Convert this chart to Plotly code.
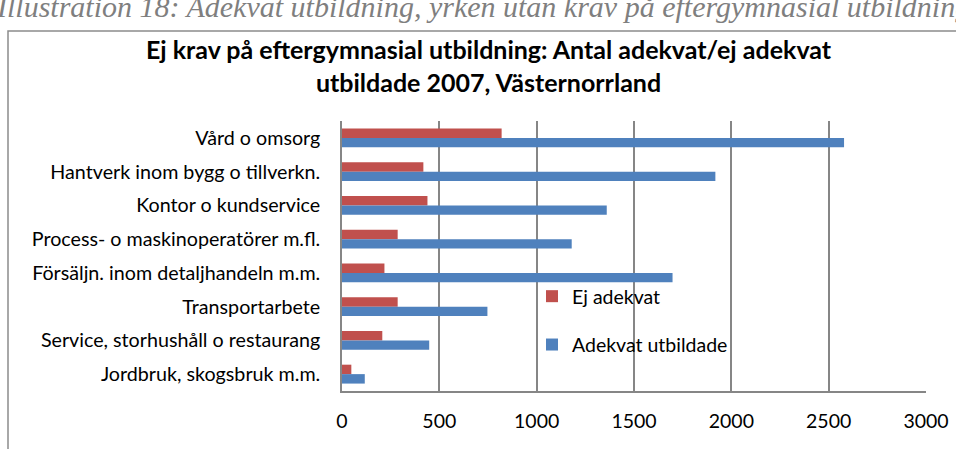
import plotly.graph_objects as go

categories = [
    "Vård o omsorg",
    "Hantverk inom bygg o tillverkn.",
    "Kontor o kundservice",
    "Process- o maskinoperatörer m.fl.",
    "Försäljn. inom detaljhandeln m.m.",
    "Transportarbete",
    "Service, storhushåll o restaurang",
    "Jordbruk, skogsbruk m.m.",
]
ej_adekvat = [820, 418, 439, 286, 218, 286, 207, 48]
adekvat_utbildade = [2579, 1918, 1360, 1180, 1698, 747, 448, 117]
x_ticks = [0, 500, 1000, 1500, 2000, 2500, 3000]

title_text = ("Ej krav på eftergymnasial utbildning: Antal adekvat/ej adekvat"
              "<br>utbildade 2007, Västernorrland")
caption_text = "Illustration 18: Adekvat utbildning, yrken utan krav på eftergymnasial utbildning"

FONT = "Lato, Carlito, 'Open Sans', sans-serif"
GRID = "#868686"

fig = go.Figure()
fig.add_trace(go.Bar(
    y=categories, x=ej_adekvat, name="Ej adekvat", orientation="h",
    marker=dict(color="#C0504D", line=dict(width=0)), legendgroup="a",
))
fig.add_trace(go.Bar(
    y=categories, x=adekvat_utbildade, name="Adekvat utbildade", orientation="h",
    marker=dict(color="#4F81BD", line=dict(width=0)), legendgroup="b",
))

fig.update_layout(
    width=956, height=449,
    margin=dict(l=342, r=30, t=121, b=58, autoexpand=False),
    paper_bgcolor="white", plot_bgcolor="white",
    barmode="group", bargap=0.44, bargroupgap=0,
    font=dict(family=FONT, size=19.7, color="black"),
    title=dict(
        text=title_text, x=0.511, xanchor="center", xref="container",
        y=0.868, yanchor="middle", yref="container",
        font=dict(family=FONT, size=25, color="black", weight="bold"),
    ),
    xaxis=dict(
        range=[0, 3000], tickvals=x_ticks, showgrid=True, gridcolor=GRID, gridwidth=1.6,
        zeroline=False, showline=True, linecolor=GRID, linewidth=1.6, mirror=False,
        ticks="", ticklabelstandoff=12, tickfont=dict(size=19.5), automargin=False,
    ),
    yaxis=dict(
        categoryorder="array", categoryarray=categories, autorange="reversed",
        showgrid=False, zeroline=False, showline=True, linecolor=GRID, linewidth=1.6,
        ticks="", ticklabelstandoff=16, tickfont=dict(size=19.7), automargin=False,
    ),
    legend=dict(
        x=(552 - 20 - 342) / 584, xanchor="left", y=(391 - 277) / 270, yanchor="top",
        bgcolor="rgba(0,0,0,0)", traceorder="grouped", tracegroupgap=20,
        font=dict(size=19.5), itemclick=False,
    ),
    showlegend=True,
)

fig.add_shape(
    type="rect", xref="paper", yref="paper",
    x0=(8 - 342) / 584, x1=1.2, y0=-1.0, y1=(391 - 31) / 270,
    line=dict(color="#8c8c8c", width=1.5), fillcolor="rgba(0,0,0,0)", layer="below",
)
fig.add_annotation(
    text="<i>" + caption_text + "</i>", xref="paper", yref="paper",
    x=(-6 - 342) / 584, xanchor="left", y=(391 - 7) / 270, yanchor="middle",
    showarrow=False, font=dict(family="'Liberation Serif', serif", size=30, color="#7f7f7f"),
)

fig.write_html(
    "out.html",
    config={"displayModeBar": False},
    post_script="document.body.style.margin='0';",
)
